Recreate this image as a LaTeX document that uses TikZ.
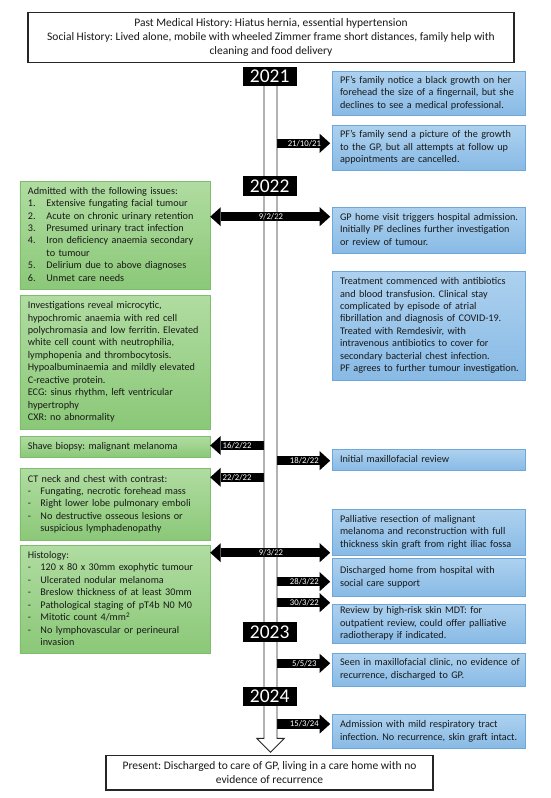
\documentclass[tikz,border=0pt]{standalone}
\usepackage{fontspec}
\setmainfont{Carlito}
\usetikzlibrary{arrows.meta}
\definecolor{gtop}{HTML}{B0DCA1}
\definecolor{gbot}{HTML}{8BC878}
\definecolor{gline}{HTML}{7DBE6C}
\definecolor{btop}{HTML}{ADD1EF}
\definecolor{bbot}{HTML}{88BAE5}
\definecolor{bline}{HTML}{6EA8DB}
\newcommand{\boxlines}[1]{\begin{tabular}{@{}l@{}}#1\end{tabular}}
\newcommand{\numi}[1]{\makebox[18.6pt][l]{#1}}
\newcommand{\dashi}{\makebox[12.6pt][l]{-}}
\frenchspacing
\begin{document}
\begin{tikzpicture}[x=1pt,y=-1pt,
  box/.style={anchor=north west, inner xsep=8pt, inner ysep=0pt, align=left,
    font=\fontsize{10.2}{12.45}\selectfont, line width=0.7pt, text=black!90},
  gbox/.style={box, draw=gline, top color=gtop, bottom color=gbot, text width=174pt},
  bbox/.style={box, draw=bline, top color=btop, bottom color=bbot, text width=177.3pt},
  wbox/.style={draw=black!85, line width=1.3pt, fill=white, align=center, inner sep=0pt,
    font=\fontsize{11.5}{14}\selectfont, text=black!90},
  yearbox/.style={fill=black, text=white, minimum width=54pt, minimum height=19.3pt,
    inner sep=0pt, font=\fontsize{19.5}{19.5}\selectfont},
  datetip/.tip={Triangle[width=19pt,length=10.5pt,line width=0pt]},
  datearrow/.style={line width=9.5pt, draw=black, -{datetip}, shorten >=1.5pt},
  dblarrow/.style={line width=9.5pt, draw=black, {datetip}-{datetip}, shorten >=1.5pt},
  datelbl/.style={text=white, font=\fontsize{8.7}{8.7}\selectfont, inner sep=0pt},
  tlline/.style={draw=black!85, line width=0.9pt, line join=miter}
]
\useasboundingbox (0,0) rectangle (550,798);
\fill[white] (0,0) rectangle (550,798);

% timeline body (fill)
\fill[white] (264,76) -- (264,738.3) -- (256.7,738.3) -- (270.5,752.3) -- (284.3,738.3) -- (277,738.3) -- (277,76) -- cycle;

% top and bottom boxes
\node[wbox, minimum width=486pt, minimum height=49.6pt] (hist) at (271,37.5)
  {Past Medical History: Hiatus hernia, essential hypertension\\
   Social History: Lived alone, mobile with wheeled Zimmer frame short distances, family help with\\
   cleaning and food delivery};
\node[wbox, minimum width=327pt, minimum height=34.5pt] (present) at (269.5,772.8)
  {Present: Discharged to care of GP, living in a care home with no\\
   evidence of recurrence};

% blue boxes
\node[bbox, minimum height=44.3pt] (b1) at (331.7,70.7) {\boxlines{PF’s family notice a black growth on her\\forehead the size of a fingernail, but she\\declines to see a medical professional.}};
\node[bbox, minimum height=45pt] (b2) at (331.7,125) {\boxlines{PF’s family send a picture of the growth\\to the GP, but all attempts at follow up\\appointments are cancelled.}};
\node[bbox, minimum height=46.6pt] (b3) at (331.7,206.7) {\boxlines{GP home visit triggers hospital admission.\\Initially PF declines further investigation\\or review of tumour.}};
\node[bbox, minimum height=109.3pt] (b4) at (331.7,270.7) {\boxlines{Treatment commenced with antibiotics\\and blood transfusion. Clinical stay\\complicated by episode of atrial\\fibrillation and diagnosis of COVID-19.\\Treated with Remdesivir, with\\intravenous antibiotics to cover for\\secondary bacterial chest infection.\\PF agrees to further tumour investigation.}};
\node[bbox, minimum height=20.7pt] (b5) at (331.7,449.3) {\boxlines{Initial maxillofacial review}};
\node[bbox, minimum height=45.7pt] (b6) at (331.7,509.3) {\boxlines{Palliative resection of malignant\\melanoma and reconstruction with full\\thickness skin graft from right iliac fossa}};
\node[bbox, minimum height=37.7pt] (b7) at (331.7,558.3) {\boxlines{Discharged home from hospital with\\social care support}};
\node[bbox, minimum height=39pt] (b8) at (331.7,604) {\boxlines{Review by high-risk skin MDT: for\\outpatient review, could offer palliative\\radiotherapy if indicated.}};
\node[bbox, minimum height=33.3pt] (b9) at (331.7,652.7) {\boxlines{Seen in maxillofacial clinic, no evidence of\\recurrence, discharged to GP.}};
\node[bbox, minimum height=34.3pt] (b10) at (331.7,714) {\boxlines{Admission with mild respiratory tract\\infection. No recurrence, skin graft intact.}};

% green boxes
\node[gbox, minimum height=108.3pt] (g1) at (19.5,180.7) {\boxlines{Admitted with the following issues:\\
  \numi{1.}Extensive fungating facial tumour\\
  \numi{2.}Acute on chronic urinary retention\\
  \numi{3.}Presumed urinary tract infection\\
  \numi{4.}Iron deficiency anaemia secondary\\
  \hspace*{18.6pt}to tumour\\
  \numi{5.}Delirium due to above diagnoses\\
  \numi{6.}Unmet care needs}};
\node[gbox, minimum height=133.5pt] (g2) at (19.5,295) {\boxlines{Investigations reveal microcytic,\\hypochromic anaemia with red cell\\polychromasia and low ferritin. Elevated\\white cell count with neutrophilia,\\lymphopenia and thrombocytosis.\\Hypoalbuminaemia and mildly elevated\\C-reactive protein.\\ECG: sinus rhythm, left ventricular\\hypertrophy\\CXR: no abnormality}};
\node[gbox, minimum height=20.7pt] (g3) at (19.5,436) {\boxlines{Shave biopsy: malignant melanoma}};
\node[gbox, minimum height=71.7pt] (g4) at (19.5,468.3) {\boxlines{CT neck and chest with contrast:\\
  \dashi Fungating, necrotic forehead mass\\
  \dashi Right lower lobe pulmonary emboli\\
  \dashi No destructive osseous lesions or\\
  \hspace*{12.6pt}suspicious lymphadenopathy}};
\node[gbox, minimum height=108.3pt] (g5) at (19.5,545) {\boxlines{Histology:\\
  \dashi 120 x 80 x 30mm exophytic tumour\\
  \dashi Ulcerated nodular melanoma\\
  \dashi Breslow thickness of at least 30mm\\
  \dashi Pathological staging of pT4b N0 M0\\
  \dashi Mitotic count 4/mm\textsuperscript{2}\\
  \dashi No lymphovascular or perineural\\
  \hspace*{12.6pt}invasion}};

% date arrows
\coordinate (d1) at (277,143.3);
\draw[datearrow] (d1) -- (d1 -| b2.west) node[datelbl, midway] {21/10/21};
\coordinate (d2) at (270.5,216.7);
\draw[dblarrow] (d2 -| g1.east) -- (d2 -| b3.west) node[datelbl, midway] {9/2/22};
\coordinate (d3) at (264,445.5);
\draw[datearrow, shorten >=0pt] (d3) -- (d3 -| g3.east) node[datelbl, midway] {16/2/22};
\coordinate (d4) at (277,460.7);
\draw[datearrow] (d4) -- (d4 -| b5.west) node[datelbl, midway] {18/2/22};
\coordinate (d5) at (264,477.3);
\draw[datearrow, shorten >=0pt] (d5) -- (d5 -| g4.east) node[datelbl, midway] {22/2/22};
\coordinate (d6) at (270.5,552.7);
\draw[dblarrow] (d6 -| g5.east) -- (d6 -| b6.west) node[datelbl, midway] {9/3/22};
\coordinate (d7) at (277,581.7);
\draw[datearrow] (d7) -- (d7 -| b7.west) node[datelbl, midway] {28/3/22};
\coordinate (d8) at (277,602.7);
\draw[datearrow] (d8) -- (d8 -| b8.west) node[datelbl, midway] {30/3/22};
\coordinate (d9) at (277,663.3);
\draw[datearrow] (d9) -- (d9 -| b9.west) node[datelbl, midway] {5/5/23};
\coordinate (d10) at (277,724);
\draw[datearrow] (d10) -- (d10 -| b10.west) node[datelbl, midway] {15/3/24};

% timeline outline
\draw[tlline] (264,76) -- (264,738.3) -- (256.7,738.3) -- (270.5,752.3) -- (284.3,738.3) -- (277,738.3) -- (277,76);

% year labels
\node[yearbox] (y2021) at (269.7,76.5) {2021};
\node[yearbox] (y2022) at (269.7,185.9) {2022};
\node[yearbox] (y2023) at (269.7,632) {2023};
\node[yearbox] (y2024) at (269.7,696.4) {2024};
\end{tikzpicture}
\end{document}
